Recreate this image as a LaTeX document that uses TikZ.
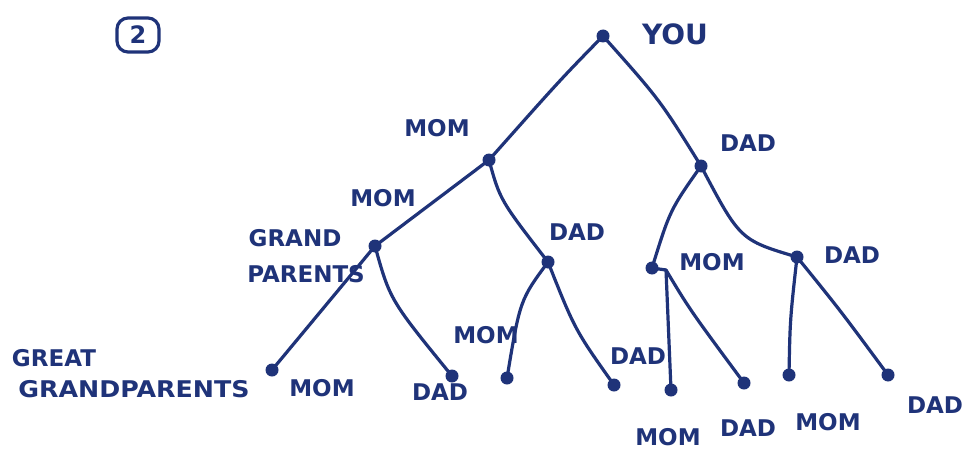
\documentclass[tikz,border=0pt]{standalone}
\usepackage{fontspec}
\setmainfont{DejaVu Sans}
\definecolor{ink}{HTML}{1F3379}
\begin{document}
\begin{tikzpicture}[x=1pt,y=-1pt,
  dotnode/.style={circle,fill=ink,inner sep=0pt,minimum size=13pt},
  link/.style={draw=ink,line width=3.2pt,line cap=round},
  lbl/.style={text=ink,font=\bfseries\fontsize{23}{24}\selectfont,inner sep=1pt}]
\useasboundingbox[fill=white] (0,0) rectangle (963,452);
% dots
\node[dotnode] (you) at (603,36) {};
\node[dotnode] (m) at (489,160) {};
\node[dotnode] (d) at (701,166) {};
\node[dotnode] (mm) at (375,246) {};
\node[dotnode] (md) at (548,262) {};
\node[dotnode] (dm) at (652,268) {};
\coordinate (dmj) at (666,270);
\node[dotnode] (dd) at (797,257) {};
\node[dotnode] (mmm) at (272,370) {};
\node[dotnode] (mmd) at (452,376) {};
\node[dotnode] (mdm) at (507,378) {};
\node[dotnode] (mdd) at (614,385) {};
\node[dotnode] (dmm) at (671,390) {};
\node[dotnode] (dmd) at (744,383) {};
\node[dotnode] (ddm) at (789,375) {};
\node[dotnode] (ddd) at (888,375) {};
% links
\draw[link] (you.center) .. controls (560,80) .. (m.center);
\draw[link] (you.center) .. controls (660,100) .. (d.center);
\draw[link] (m.center) -- (mm.center);
\draw[link] (m.center) .. controls (500,200) .. (md.center);
\draw[link] (mm.center) -- (mmm.center);
\draw[link] (mm.center) .. controls (390,300) .. (mmd.center);
\draw[link] (md.center) .. controls (520,300) .. (mdm.center);
\draw[link] (md.center) .. controls (575,330) .. (mdd.center);
\draw[link] (d.center) .. controls (670,210) .. (dm.center);
\draw[link] (d.center) .. controls (740,240) .. (dd.center);
\draw[link] (dm.center) -- (dmj);
\draw[link] (dmj) .. controls (668,330) .. (dmm.center);
\draw[link] (dmj) .. controls (690,310) .. (dmd.center);
\draw[link] (dd.center) .. controls (790,320) .. (ddm.center);
\draw[link] (dd.center) .. controls (840,310) .. (ddd.center);
% labels
\node[draw=ink,line width=3.2pt,rounded corners=11pt,minimum width=42pt,minimum height=34pt,text=ink,font=\bfseries\fontsize{24}{24}\selectfont] (two) at (138,35) {2};
\node[lbl,font=\bfseries\fontsize{28}{29}\selectfont] (tyou) at (675,34) {YOU};
\node[lbl] (tm) at (437,128) {MOM};
\node[lbl] (td) at (748,143) {DAD};
\node[lbl] (tmm) at (383,198) {MOM};
\node[lbl] (tg1) at (295,238) {GRAND};
\node[lbl] (tg2) at (306,274) {PARENTS};
\node[lbl] (tmd) at (577,232) {DAD};
\node[lbl] (tdm) at (712,262) {MOM};
\node[lbl] (tdd) at (852,255) {DAD};
\node[lbl] (tmdm) at (486,335) {MOM};
\node[lbl] (tmdd) at (638,356) {DAD};
\node[lbl] (tgg1) at (54,358) {GREAT};
\node[lbl,xscale=1.1] (tgg2) at (134,389) {GRANDPARENTS};
\node[lbl] (tmmm) at (322,388) {MOM};
\node[lbl] (tmmd) at (440,392) {DAD};
\node[lbl] (tdmm) at (668,437) {MOM};
\node[lbl] (tdmd) at (748,428) {DAD};
\node[lbl] (tddm) at (828,422) {MOM};
\node[lbl] (tddd) at (935,405) {DAD};
\end{tikzpicture}
\end{document}
